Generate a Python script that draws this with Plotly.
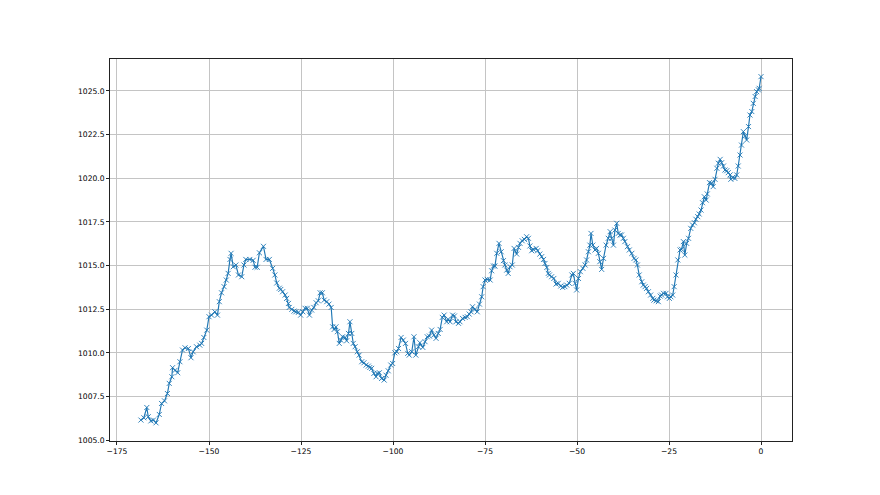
import plotly.graph_objects as go

# Hours relative to now (x) and pressure readings (hPa)
hours = [
    -168.5, -167.7, -166.9, -166.5, -165.8, -165.1, -164.4, -163.5, -162.9, -162.1,
    -161.3, -160.8, -160.1, -159.9, -159.2, -158.5, -157.9, -157.2, -156.5, -155.6,
    -154.9, -154.3, -153.4, -152.5, -152.0, -151.4, -150.6, -150.0, -149.3, -148.4,
    -147.7, -147.2, -146.6, -145.9, -145.3, -144.8, -144.3, -144.0, -143.4, -142.7,
    -142.0, -141.1, -140.5, -140.0, -138.9, -138.0, -137.5, -136.9, -136.3, -135.2,
    -134.5, -133.6, -132.7, -132.1, -131.6, -130.9,
    -130.5, -130.0, -129.3, -128.9, -128.4, -128.2, -127.5, -126.9, -126.4, -125.7,
    -125.1, -124.5, -123.9, -123.3, -122.7, -122.1, -121.5, -120.9, -120.3, -119.8,
    -119.2, -118.7, -118.0, -117.4, -116.8, -116.4, -116.0, -115.5, -115.1, -114.6,
    -114.2, -113.7, -113.0, -112.6, -112.1, -111.7, -111.2, -110.8, -110.3, -109.7,
    -109.2, -108.5, -107.9, -107.3, -106.7, -106.3, -105.8, -105.2, -104.6, -104.3,
    -103.7, -103.1, -102.4, -101.9, -101.3, -100.6, -100.1, -99.5, -99.0, -98.5,
    -97.8, -97.2, -96.6, -96.0, -95.6, -94.9, -94.3, -93.8, -93.1, -92.7,
    -91.9, -91.3, -90.7, -90.1, -89.5, -88.9, -88.3, -87.7, -87.2, -86.6,
    -86.1, -85.4, -85.0, -84.5, -83.8, -83.3, -82.9, -82.2, -81.8, -81.1,
    -80.4, -79.8, -79.3, -78.8, -78.4, -77.7, -77.1, -76.5, -75.9, -75.5,
    -75.0, -74.4, -73.6, -73.2, -72.7, -72.3, -71.8, -71.2, -70.6, -70.0,
    -69.6, -69.1, -68.7, -68.2, -67.6, -67.1, -66.4, -65.9, -65.5, -64.9,
    -64.3, -63.7, -63.2, -62.8, -62.3, -61.9, -61.1, -60.7, -60.1, -59.6,
    -59.1, -58.7, -58.2, -57.8,
    -57.5, -56.9, -56.3, -55.7, -55.1, -54.4, -53.9, -53.3, -52.8, -52.1,
    -51.4, -51.0, -50.5, -50.1, -49.6, -49.1, -48.4, -47.8, -47.4, -46.9,
    -46.5, -46.2, -45.7, -45.1, -44.7, -44.2, -43.8, -43.3, -42.8, -42.1,
    -41.5, -41.0, -40.6, -40.1, -39.7, -39.2, -38.8, -38.3, -37.9, -37.4,
    -37.0, -36.3, -35.8, -35.1, -34.5, -34.0, -33.6, -33.1, -32.4, -32.0,
    -31.5, -31.1, -30.6, -30.0, -29.4, -29.1, -28.5, -27.9, -27.4, -27.0,
    -26.5, -25.8, -25.4, -24.9, -24.5, -24.0, -23.6, -23.1, -22.6, -22.0,
    -21.6, -21.1, -20.7, -20.2, -19.7, -19.1, -18.6, -18.1, -17.7, -17.2,
    -16.8, -16.3, -15.9, -15.4, -14.9, -14.6, -14.0, -13.4, -13.0, -12.5,
    -12.0, -11.6, -11.1, -10.7, -10.2, -9.8, -9.3, -8.9, -8.4, -8.2,
    -7.7, -7.1, -6.6, -6.2, -5.7, -5.3, -4.8, -4.3, -3.9, -3.4,
    -3.0, -2.5, -2.1, -1.6, -1.2, -0.7, -0.5, 0.0,
]

pressure = [
    1006.15, 1006.28, 1006.87, 1006.34, 1006.10, 1006.15, 1005.99, 1006.47, 1007.10, 1007.25,
    1007.67, 1008.25, 1008.63, 1009.15, 1009.00, 1008.86, 1009.49, 1010.16, 1010.29, 1010.25,
    1009.72, 1010.06, 1010.35, 1010.44, 1010.54, 1010.88, 1011.30, 1012.07, 1012.16, 1012.35,
    1012.16, 1012.93, 1013.44, 1013.79, 1014.17, 1014.55, 1015.35, 1015.70, 1014.93, 1015.03,
    1014.46, 1014.36, 1015.03, 1015.35, 1015.35, 1015.30, 1014.90, 1014.90, 1015.73, 1016.10,
    1015.35, 1015.35, 1014.84, 1014.46, 1014.00, 1013.70,
    1013.63, 1013.50, 1013.31, 1013.12, 1012.83, 1012.60, 1012.49, 1012.39, 1012.35, 1012.32,
    1012.16, 1012.35, 1012.55, 1012.55, 1012.16, 1012.45, 1012.60, 1012.87, 1012.98, 1013.44,
    1013.44, 1013.02, 1012.93, 1012.79, 1012.60, 1011.49, 1011.34, 1011.49, 1011.21, 1010.54,
    1010.73, 1010.92, 1010.88, 1010.69, 1011.11, 1011.78, 1011.11, 1010.54, 1010.35, 1010.06,
    1009.87, 1009.49, 1009.43, 1009.30, 1009.24, 1009.16, 1009.11, 1008.82, 1008.63, 1008.82,
    1008.86, 1008.53, 1008.44, 1008.72, 1008.97, 1009.30, 1009.39, 1010.00, 1010.06, 1010.25,
    1010.88, 1010.73, 1010.54, 1009.97, 1009.87, 1010.06, 1010.92, 1009.87, 1010.35, 1010.58,
    1010.31, 1010.64, 1010.92, 1010.96, 1011.30, 1011.02, 1010.83, 1011.11, 1011.34, 1012.03,
    1012.16, 1011.78, 1011.92, 1011.78, 1012.16, 1012.11, 1011.78, 1011.69, 1011.78, 1011.97,
    1012.03, 1012.07, 1012.22, 1012.35, 1012.64, 1012.49, 1012.35, 1012.79, 1013.21, 1013.79,
    1014.17, 1014.21, 1014.17, 1014.70, 1014.97, 1014.97, 1015.70, 1016.27, 1015.79, 1015.28,
    1015.03, 1014.74, 1014.55, 1014.93, 1015.03, 1015.98, 1015.66, 1016.04, 1016.27, 1016.42,
    1016.50, 1016.65, 1016.56, 1016.12, 1015.85, 1015.93, 1015.98, 1015.85, 1015.66, 1015.51,
    1015.35, 1015.12, 1014.89, 1014.55,
    1014.46, 1014.36, 1014.26, 1013.94, 1013.98, 1013.83, 1013.75, 1013.79, 1013.88, 1013.98,
    1014.46, 1014.55, 1013.98, 1013.60, 1014.26, 1014.65, 1014.84, 1015.03, 1015.32, 1015.79,
    1016.17, 1016.84, 1016.17, 1015.89, 1015.98, 1015.70, 1015.22, 1014.78, 1015.41, 1016.17,
    1016.56, 1016.94, 1016.56, 1016.17, 1017.03, 1017.42, 1016.84, 1016.75, 1016.75, 1016.56,
    1016.37, 1016.08, 1015.89, 1015.70, 1015.41, 1015.32, 1015.03, 1014.46, 1014.07, 1013.88,
    1013.79, 1013.69, 1013.50, 1013.31, 1013.12, 1013.02, 1012.98, 1012.93, 1013.25, 1013.31,
    1013.41, 1013.41, 1013.21, 1013.12, 1013.21, 1013.31, 1013.79, 1014.46, 1015.32, 1015.89,
    1015.93, 1016.37, 1015.60, 1016.27, 1016.56, 1017.13, 1017.32, 1017.45, 1017.65, 1017.80,
    1017.95, 1018.18, 1018.60, 1018.94, 1018.75, 1019.10, 1019.75, 1019.71, 1019.52, 1019.94,
    1020.57, 1020.86, 1021.08, 1020.89, 1020.70, 1020.47, 1020.43, 1020.32, 1020.19, 1019.94,
    1020.05, 1019.99, 1020.19, 1020.70, 1021.33, 1021.90, 1022.67, 1022.42, 1022.19, 1022.96,
    1023.62, 1023.82, 1024.29, 1024.68, 1024.96, 1025.06, 1025.15, 1025.82,
]

x_ticks = [-175, -150, -125, -100, -75, -50, -25, 0]
x_tick_labels = ["\u2212175", "\u2212150", "\u2212125", "\u2212100", "\u221275", "\u221250", "\u221225", "0"]
y_ticks = [1005.0, 1007.5, 1010.0, 1012.5, 1015.0, 1017.5, 1020.0, 1022.5, 1025.0]
y_tick_labels = ["1005.0", "1007.5", "1010.0", "1012.5", "1015.0", "1017.5", "1020.0", "1022.5", "1025.0"]

blue = "#1f77b4"

fig = go.Figure()
fig.add_trace(go.Scatter(
    x=hours, y=pressure, mode="lines+markers",
    line=dict(color=blue, width=1.15),
    marker=dict(symbol="x-thin", size=5, color=blue, line=dict(color=blue, width=0.9)),
    showlegend=False,
))

axis_common = dict(
    showgrid=True, gridcolor="#c4c4c4", gridwidth=0.6,
    showline=True, linecolor="#222222", linewidth=0.8, mirror=True,
    ticks="outside", ticklen=3, tickwidth=0.6, tickcolor="#222222",
    zeroline=False,
    tickfont=dict(family="DejaVu Sans", size=7.6, color="black"),
)

# The page body has an 8px margin, so the figure is sized/offset to compensate.
fig.update_layout(
    width=872, height=487,
    margin=dict(l=102, r=88, t=51, b=54),
    paper_bgcolor="white", plot_bgcolor="white",
    xaxis=dict(range=[-176.9, 8.42], tickvals=x_ticks, ticktext=x_tick_labels, **axis_common),
    yaxis=dict(range=[1004.95, 1026.83], tickvals=y_ticks, ticktext=y_tick_labels, **axis_common),
)

fig.write_html("out.html")
